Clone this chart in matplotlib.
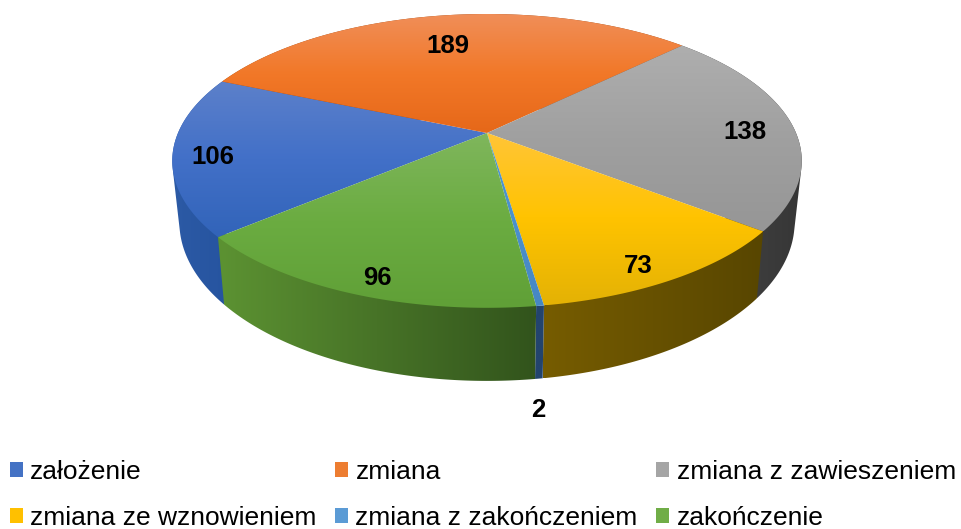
import numpy as np
import matplotlib
matplotlib.use("Agg")
import matplotlib.pyplot as plt
from matplotlib.patches import Patch, Polygon

plt.rcParams['font.family'] = ['Liberation Sans', 'DejaVu Sans']

categories = ['założenie', 'zmiana', 'zmiana z zawieszeniem',
              'zmiana ze wznowieniem', 'zmiana z zakończeniem', 'zakończenie']
values = [106, 189, 138, 73, 2, 96]

# legend colours
colors = ['#4472C4', '#ED7D31', '#A5A5A5', '#FFC000', '#5B9BD5', '#70AD47']

# top face gradient of each slice, light to dark going down
top_light = [(92, 128, 202), (240, 142, 88), (174, 174, 174), (255, 197, 55), (80, 150, 208), (127, 182, 92)]
top_mid = [(66, 112, 200), (242, 120, 40), (160, 160, 160), (255, 195, 0), (75, 145, 205), (107, 172, 65)]
top_dark = [(50, 100, 185), (230, 104, 25), (150, 150, 150), (228, 178, 5), (70, 135, 195), (96, 160, 55)]

# side wall gradient, left to right
side_left = [(44, 90, 165), (150, 70, 20), (72, 72, 72), (118, 92, 0), (35, 68, 110), (92, 146, 50)]
side_right = [(38, 84, 160), (150, 70, 20), (54, 54, 54), (88, 70, 0), (35, 68, 110), (50, 84, 28)]

# where the data labels sit (pixels)
label_x = [213, 448, 745, 638, 538, 377]
label_y = [157, 46, 132, 266, 410, 278]

start_angle = 220.2  # first slice starts here, goes clockwise

# perspective of the top and bottom disc, in pixels
cx = 487
top_a, top_b, top_k, top_y = 309, 141.6, 0.19, 133
bot_a, bot_b, bot_k, bot_y = 302, 153, 0.19, 192


def project(theta, a=top_a, b=top_b, k=top_k, y0=top_y):
    u = np.cos(np.radians(theta))
    v = np.sin(np.radians(theta))
    w = 1 + k * v
    return cx + a * u / w, y0 - b * v / w


def hull(x, y):
    # monotone chain, walls are filled as a hull so the silhouette has no notch
    pts = sorted(set(zip(x.tolist(), y.tolist())))

    def half(points):
        out = []
        for p in points:
            while len(out) > 1 and ((out[-1][0] - out[-2][0]) * (p[1] - out[-2][1])
                                    - (out[-1][1] - out[-2][1]) * (p[0] - out[-2][0])) <= 0:
                out.pop()
            out.append(p)
        return out[:-1]

    h = np.array(half(pts) + half(pts[::-1]))
    return h[:, 0], h[:, 1]


def gradient_fill(ax, x, y, stops, positions, horizontal, zorder):
    # image of the gradient, clipped to the polygon
    lo, hi = (x.min(), x.max()) if horizontal else (y.min(), y.max())
    pos = np.linspace(lo, hi, 64)
    grad = np.zeros((64, 1, 3))
    for ch in range(3):
        grad[:, 0, ch] = np.interp(pos, lo + np.array(positions) * (hi - lo),
                                   [s[ch] for s in stops]) / 255
    if horizontal:
        grad = grad.transpose(1, 0, 2)
    im = ax.imshow(grad, extent=(x.min(), x.max(), y.max(), y.min()),
                   aspect='auto', interpolation='bilinear', zorder=zorder)
    poly = Polygon(np.c_[x, y], closed=True, transform=ax.transData, fc='none', ec='none')
    ax.add_patch(poly)
    im.set_clip_path(poly)


fig = plt.figure(figsize=(9.62, 5.29), dpi=100)
ax = fig.add_axes([0, 0, 1, 1])

sweeps = np.array(values) / sum(values) * 360
ends = start_angle - np.cumsum(sweeps)
starts = ends + sweeps

# side walls first, the top face covers the hidden part
for i in range(len(values)):
    th = np.linspace(starts[i], ends[i], 200)
    xt, yt = project(th)
    xb, yb = project(th, bot_a, bot_b, bot_k, bot_y)
    xh, yh = hull(np.r_[xt, xb], np.r_[yt, yb])
    # later walls draw over earlier ones
    gradient_fill(ax, xh, yh, [side_left[i], side_right[i]], [0, 1], True, 2 + i * 0.01)

# top faces with vertical gradient
for i in range(len(values)):
    th = np.linspace(starts[i], ends[i], 200)
    x, y = project(th)
    gradient_fill(ax, np.r_[cx, x], np.r_[top_y, y],
                  [top_light[i], top_mid[i], top_dark[i]], [0, 0.5, 1], False, 3)

for i in range(len(values)):
    ax.text(label_x[i], label_y[i], str(values[i]), fontsize=18.5, fontweight='bold',
            ha='center', va='center', color='black', zorder=5)

handles = [Patch(facecolor=c, edgecolor='none') for c in colors]
order = [0, 3, 1, 4, 2, 5]
ax.legend([handles[i] for i in order], [categories[i] for i in order], ncol=3,
          loc='lower left', bbox_to_anchor=(10 / 962, -1.0 / 529), bbox_transform=fig.transFigure,
          frameon=False, fontsize=19, handlelength=0.5, handleheight=0.5,
          handletextpad=0.27, columnspacing=0.7, labelspacing=0.83, borderpad=0, borderaxespad=0)

ax.set_xlim(0, 962)
ax.set_ylim(529, 0)
ax.axis('off')

fig.savefig('out.png', dpi=100)
